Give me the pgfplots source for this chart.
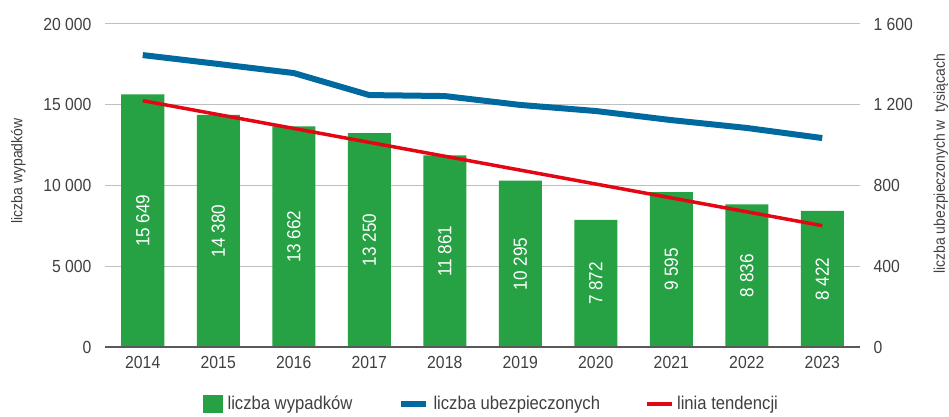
\documentclass[border=0pt]{standalone}
\usepackage{pgfplots}
\pgfplotsset{compat=1.18}
\usepackage{pgfplotstable}
\usepackage{fontspec}
\setmainfont{Liberation Sans}[FakeStretch=0.9]

\definecolor{zielony}{RGB}{38,161,67}
\definecolor{niebieski}{RGB}{0,106,160}
\definecolor{czerwony}{RGB}{227,6,19}
\definecolor{tekst}{RGB}{64,64,64}
\definecolor{siatka}{RGB}{191,191,191}
\definecolor{os}{RGB}{89,89,89}

% x, rok, liczba wypadkow, liczba ubezpieczonych (tys.)
\pgfplotstableread{
x rok  wyp   ubez
0 2014 15649 1446
1 2015 14380 1402
2 2016 13662 1357
3 2017 13250 1248
4 2018 11861 1243
5 2019 10295 1199
6 2020 7872  1169
7 2021 9595  1124
8 2022 8836  1085
9 2023 8422  1035
}\dane

\pgfplotsset{
  wspolne/.style={
    scale only axis, width=755pt, height=323pt,
    xmin=-0.5, xmax=9.5,
    major tick length=0pt,
    scaled y ticks=false,
    tick label style={font=\fontsize{17.5}{20}\selectfont, text=tekst},
    label style={font=\fontsize{15.5}{18}\selectfont, text=tekst},
    /pgf/number format/1000 sep={\ },
    /pgf/number format/assume math mode=true,
  },
}

\begin{document}
\begin{tikzpicture}
\useasboundingbox (-105pt,-70pt) rectangle (844pt,347pt);

\begin{axis}[
  wspolne,
  ymin=0, ymax=20000,
  xtick={0,...,9},
  xticklabels={2014,2015,2016,2017,2018,2019,2020,2021,2022,2023},
  ytick={0,5000,10000,15000,20000},
  ymajorgrids, grid style={siatka, line width=1pt},
  axis line style={draw=none},
  yticklabel style={xshift=-10pt},
  xticklabel style={yshift=-6pt},
  ylabel={liczba wypadków},
  ylabel style={at={(axis description cs:-0.115,0.545)}, anchor=center},
]
\addplot[ybar, bar width=43pt, fill=zielony, draw=none, forget plot]
  table[x=x, y=wyp] {\dane};
\addplot[draw=none, mark=none, forget plot,
  nodes near coords, point meta=explicit,
  nodes near coords style={anchor=center, rotate=90, text=white,
    font=\fontsize{19}{20}\selectfont}]
  table[x=x, y expr=\thisrow{wyp}/2, meta=wyp] {\dane};
\addplot[os, line width=2pt, forget plot] coordinates {(-0.5,0) (9.5,0)};
% linia tendencji (regresja liniowa)
\addplot[czerwony, line width=3.5pt, forget plot] coordinates {(0,15252) (9,7513)};
\end{axis}

\begin{axis}[
  wspolne,
  ymin=0, ymax=1600,
  ytick={0,400,800,1200,1600},
  axis x line=none,
  axis y line*=right,
  y axis line style={draw=none},
  yticklabel style={xshift=10pt},
  ylabel={liczba ubezpieczonych w \ tysiącach},
  ylabel style={at={(axis description cs:1.107,0.567)}, anchor=center},
  legend style={at={(axis description cs:0.512,-0.176)}, anchor=center,
    draw=none, fill=none, legend columns=3,
    font=\fontsize{18.5}{21}\selectfont, text=tekst,
    /tikz/every even column/.append style={column sep=43pt}},
]
\addlegendimage{legend image code/.code={\fill[zielony] (0pt,-8.5pt) rectangle (19pt,8.5pt); \path (22pt,0pt);}}
\addlegendentry{liczba wypadków}
\addplot[niebieski, line width=6pt, line join=round, mark=none,
  legend image code/.code={\draw[niebieski, line width=6pt] (0pt,0pt) -- (25pt,0pt); \path (28pt,0pt);}]
  table[x=x, y=ubez] {\dane};
\addlegendentry{liczba ubezpieczonych}
\addlegendimage{legend image code/.code={\draw[czerwony, line width=3.5pt] (0pt,0pt) -- (25pt,0pt); \path (28pt,0pt);}}
\addlegendentry{linia tendencji}
\end{axis}
\end{tikzpicture}
\end{document}
